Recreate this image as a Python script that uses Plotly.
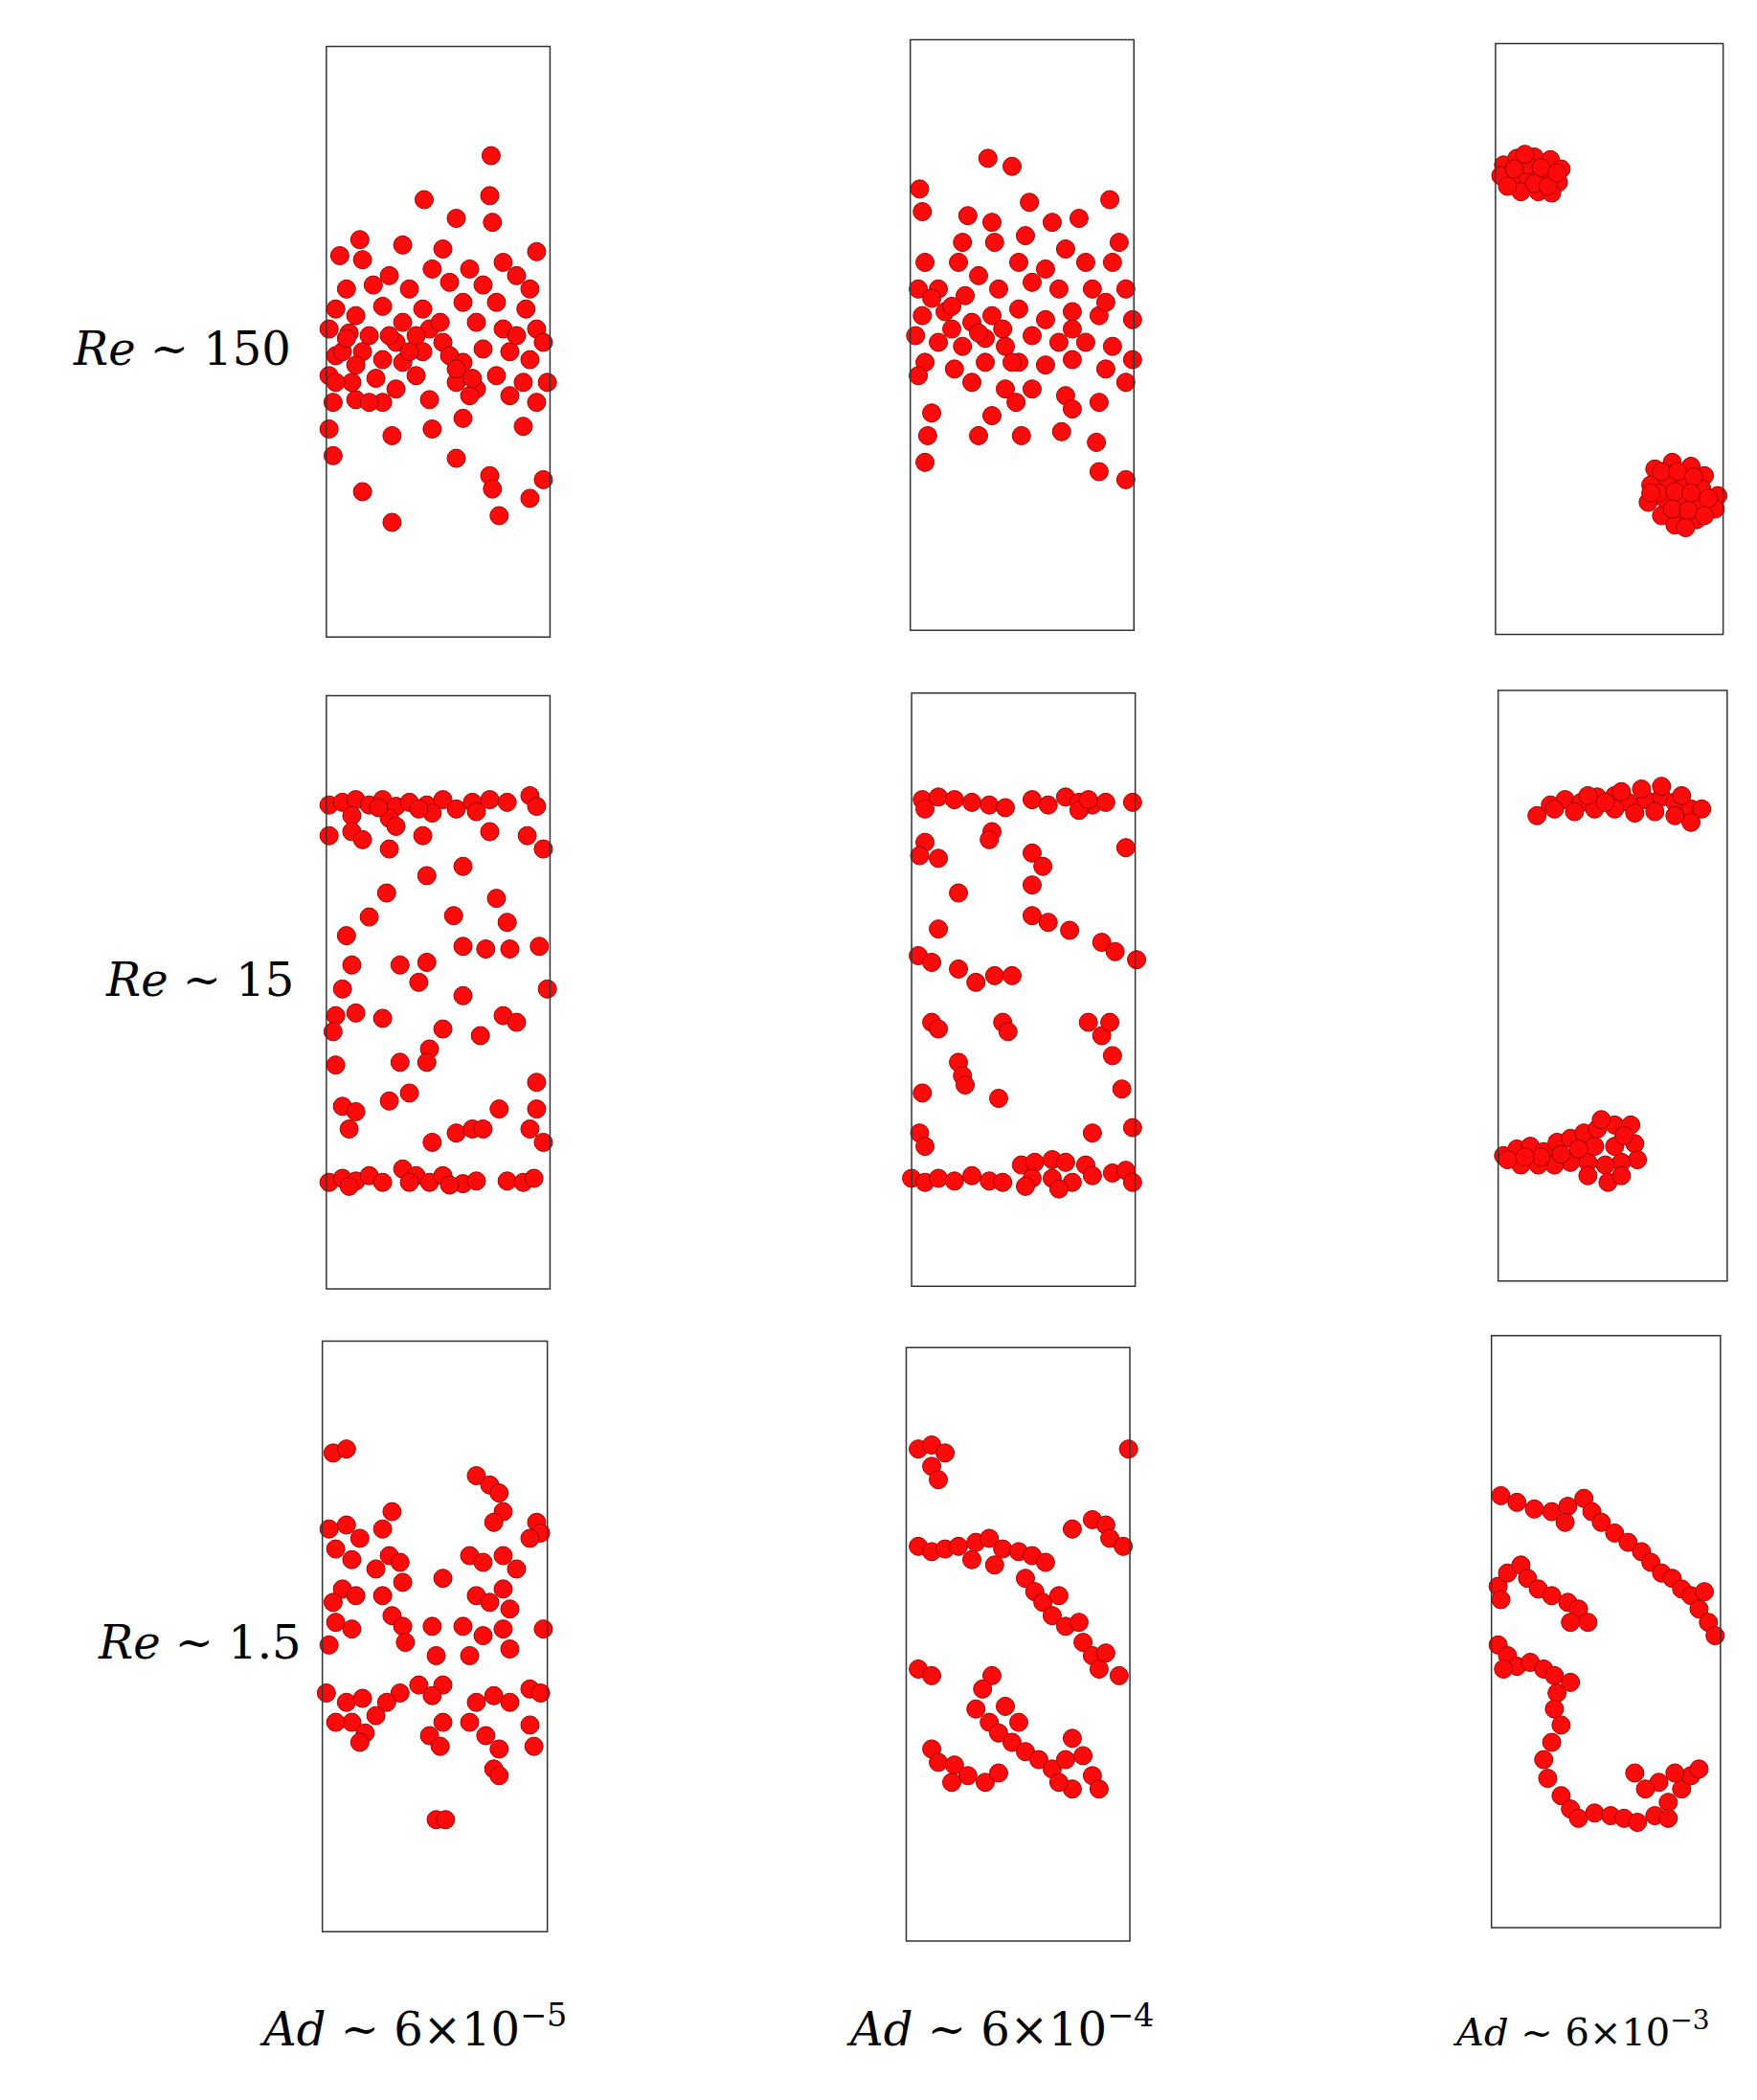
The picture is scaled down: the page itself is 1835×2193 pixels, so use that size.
import plotly.graph_objects as go

# coordinates are in picture units, y grows downward
# panel boxes (x0, y0, x1, y1)
boxes = [
    (243, 33, 410, 476), (679, 28, 846, 471), (1116, 31, 1286, 474),
    (243, 520, 410, 965), (680, 518, 847, 963), (1118, 516, 1289, 959),
    (240, 1004, 408, 1447), (676, 1009, 843, 1454), (1113, 1000, 1284, 1444),
]

# Re ~ 150, Ad ~ 6e-5
pts_a = [(366,115),(316,148),(365,145),(340,162),(367,165),(253,190),(268,178),(300,182),(330,185),(400,187),
         (270,193),(290,205),(322,200),(350,200),(375,195),(385,205),(258,215),(278,212),(305,215),(335,210),
         (360,212),(395,215),(250,230),(265,235),(285,228),(300,240),(315,230),(345,225),(370,225),(392,230),
         (245,245),(260,248),(275,250),(295,255),(320,245),(330,255),(355,240),(375,245),(400,245),(405,255),
         (250,265),(270,262),(285,268),(300,270),(315,262),(335,265),(345,270),(360,260),(380,262),(395,268),
         (245,280),(262,285),(280,282),(295,290),(310,280),(340,285),(355,290),(370,280),(390,285),(408,285),
         (248,300),(265,298),(285,300),(320,298),(350,295),(380,295),(400,300),(245,320),(292,325),(345,312),
         (322,320),(390,318),(248,340),(340,342),(365,355),(405,358),(270,367),(367,365),(395,372),(292,390),
         (372,385),(255,262),(305,262),(328,240),(250,285),(275,300),(290,250),(340,275),(352,282),(265,272),
         (310,250),(385,250),(258,252)]
# Re ~ 150, Ad ~ 6e-4
pts_b = [(737,117),(755,123),(686,140),(768,150),(688,157),(828,148),(722,160),(740,165),(785,165),(805,162),
         (718,180),(742,180),(765,175),(795,185),(835,180),(690,195),(715,195),(730,205),(760,195),(780,200),
         (810,195),(830,195),(685,215),(700,215),(720,220),(745,215),(770,210),(790,215),(815,215),(840,215),
         (688,235),(705,232),(725,240),(740,235),(760,230),(780,238),(800,232),(820,235),(845,238),(683,250),
         (700,255),(718,258),(735,252),(750,258),(770,250),(790,255),(810,255),(830,258),(690,270),(712,275),
         (735,270),(760,270),(780,272),(800,268),(825,275),(845,268),(685,280),(725,285),(750,290),(770,290),
         (795,295),(840,285),(695,308),(740,310),(758,300),(800,305),(820,300),(692,325),(730,325),(762,325),
         (792,322),(690,345),(820,352),(840,358),(818,330),(710,245),(755,270),(695,222),(710,228),(730,248),
         (748,245),(800,245),(825,225)]
# Re ~ 150, Ad ~ 6e-3
pts_c = [(1122,122),(1132,117),(1145,116),(1157,118),(1165,125),(1128,132),(1140,130),(1152,130),(1163,135),
         (1135,142),(1148,142),(1158,143),(1120,130),(1140,122),(1150,124),(1130,125),(1145,136),(1125,138),
         (1155,138),(1162,128),(1138,114),
         (1235,350),(1248,345),(1262,348),(1272,355),(1232,362),(1245,360),(1258,360),(1270,365),(1282,370),
         (1230,375),(1243,373),(1256,373),(1268,378),(1280,380),(1240,385),(1253,387),(1266,388),(1250,392),
         (1240,352),(1252,352),(1264,356),(1238,368),(1250,367),(1262,368),(1275,372),(1248,380),(1260,381),
         (1272,385),(1232,368),(1258,394)]
# Re ~ 15, Ad ~ 6e-5
pts_d = [(245,602),(255,600),(265,598),(275,602),(285,598),(295,603),(305,600),(318,602),(330,598),(340,605),
         (352,600),(365,598),(378,600),(395,595),(400,603),(262,610),(290,612),(322,608),(355,607),(245,625),
         (262,622),(270,628),(295,618),(315,625),(365,622),(393,625),(405,635),(290,635),(345,648),(318,655),
         (288,668),(370,672),(275,686),(338,685),(258,700),(378,690),(402,708),(345,708),(362,710),(380,710),
         (262,722),(298,722),(318,720),(255,740),(312,735),(408,740),(345,745),(250,760),(265,758),(285,762),
         (375,760),(385,765),(330,770),(358,775),(248,772),(320,785),(250,797),(298,795),(318,795),(400,810),
         (290,824),(305,818),(255,828),(265,832),(372,830),(400,830),(395,845),(340,848),(352,845),(360,845),
         (322,855),(405,855),(260,845),
         (245,885),(255,882),(265,884),(275,880),(285,885),(300,875),(310,880),(320,885),(330,880),(345,886),
         (355,884),(378,884),(390,885),(398,882),(305,885),(335,887),(260,888),(312,605),(282,604)]
# Re ~ 15, Ad ~ 6e-4
pts_e = [(688,598),(700,596),(712,598),(725,600),(738,602),(750,604),(770,598),(782,602),(795,596),(805,600),
         (815,602),(825,600),(845,600),(690,605),(805,606),(690,630),(740,622),(686,640),(700,642),(738,628),
         (770,638),(778,648),(840,634),(715,668),(770,662),(770,685),(782,690),(798,696),(700,695),(685,715),
         (695,720),(715,725),(728,735),(742,730),(755,730),(822,705),(832,712),(848,718),(695,765),(700,770),
         (748,765),(752,772),(812,765),(822,775),(828,765),(715,795),(718,805),(720,812),(830,790),(837,815),
         (688,818),(745,822),(686,848),(690,858),(815,848),(845,844),
         (680,882),(690,885),(700,882),(712,884),(725,880),(738,884),(748,885),(762,872),(772,870),(785,868),
         (795,870),(810,872),(770,882),(785,882),(800,885),(815,880),(830,878),(840,876),(845,885),(765,888),
         (790,890),(812,598)]
# Re ~ 15, Ad ~ 6e-3
pts_f = [(1147,610),(1157,602),(1168,598),(1180,600),(1192,596),(1205,595),(1215,600),(1228,598),(1240,596),
         (1250,600),(1262,605),(1270,605),(1262,615),(1250,610),(1235,607),(1220,608),(1205,605),(1190,605),
         (1175,607),(1160,605),(1240,588),(1225,590),(1210,592),(1198,600),(1185,595),(1255,595),
         (1122,865),(1132,860),(1142,858),(1152,862),(1162,855),(1172,852),(1182,848),(1192,845),(1205,842),
         (1217,842),(1220,856),(1222,868),(1210,870),(1198,872),(1185,870),(1172,870),(1160,872),(1148,872),
         (1135,872),(1125,868),(1190,858),(1205,858),(1178,860),(1200,885),(1210,880),(1195,838),(1165,864),
         (1150,866),(1138,866),(1185,880),(1212,850)]
# Re ~ 1.5, Ad ~ 6e-5
pts_g = [(248,1088),(258,1085),(245,1145),(258,1142),(268,1152),(285,1145),(292,1132),(355,1105),(365,1112),
         (372,1118),(375,1132),(368,1140),(400,1140),(403,1148),(395,1152),(250,1160),(262,1168),(290,1165),
         (298,1170),(280,1175),(350,1165),(360,1170),(375,1165),(385,1175),(255,1190),(265,1195),(248,1200),
         (285,1195),(300,1185),(330,1182),(355,1195),(365,1200),(375,1190),(380,1205),(250,1215),(262,1220),
         (292,1210),(300,1218),(322,1218),(345,1218),(360,1225),(375,1220),(380,1235),(405,1220),(245,1232),
         (302,1230),(350,1240),(325,1240),(312,1262),(298,1268),(330,1262),(322,1270),(243,1268),(258,1275),
         (270,1272),(355,1275),(368,1270),(380,1275),(395,1265),(403,1268),(262,1290),(272,1298),(268,1305),
         (330,1290),(320,1300),(328,1308),(350,1290),(362,1300),(372,1310),(395,1292),(398,1308),(368,1325),
         (372,1330),(325,1363),(332,1363),(250,1290),(288,1275),(280,1285)]
# Re ~ 1.5, Ad ~ 6e-4
pts_h = [(685,1085),(695,1082),(705,1088),(695,1098),(700,1108),(842,1085),(685,1158),(695,1162),(705,1160),
         (715,1158),(728,1155),(738,1152),(748,1160),(760,1162),(770,1165),(780,1170),(725,1168),(742,1172),
         (800,1145),(815,1138),(825,1142),(828,1152),(838,1158),(765,1182),(772,1192),(778,1200),(790,1195),
         (785,1210),(795,1218),(805,1215),(808,1230),(815,1240),(820,1250),(835,1255),(825,1238),(685,1250),
         (695,1255),(740,1255),(733,1265),(728,1280),(738,1290),(745,1298),(755,1305),(765,1312),(775,1318),
         (785,1325),(795,1318),(800,1302),(808,1315),(815,1330),(820,1340),(800,1340),(790,1335),(695,1310),
         (700,1320),(712,1322),(722,1330),(735,1335),(745,1328),(710,1335),(750,1278),(760,1290)]
# Re ~ 1.5, Ad ~ 6e-3
pts_i = [(1120,1120),(1132,1125),(1145,1130),(1158,1132),(1170,1128),(1182,1122),(1188,1132),(1195,1140),
         (1205,1148),(1215,1155),(1225,1162),(1232,1170),(1240,1178),(1248,1182),(1255,1190),(1262,1195),
         (1272,1192),(1268,1205),(1275,1215),(1280,1225),(1168,1140),
         (1118,1188),(1125,1178),(1135,1172),(1140,1182),(1148,1190),(1158,1195),(1170,1200),(1178,1205),
         (1185,1215),(1172,1215),(1120,1198),
         (1118,1232),(1125,1240),(1132,1248),(1142,1245),(1152,1250),(1160,1255),(1162,1268),(1160,1280),
         (1165,1292),(1158,1305),(1152,1318),(1155,1332),(1165,1345),(1172,1355),(1178,1362),(1190,1358),
         (1202,1360),(1212,1362),(1222,1365),(1235,1360),(1245,1350),(1255,1340),(1262,1330),(1268,1325),
         (1250,1328),(1238,1335),(1228,1340),(1220,1328),(1245,1362),(1172,1260),(1122,1250)]

panels = [pts_a, pts_b, pts_c, pts_d, pts_e, pts_f, pts_g, pts_h, pts_i]

row_labels = ["<i>Re</i> ~ 150", "<i>Re</i> ~ 15", "<i>Re</i> ~ 1.5"]
row_label_pos = [(135, 260), (148, 733), (148, 1230)]
col_labels = ["<i>Ad</i> ~ 6×10<sup>−5</sup>", "<i>Ad</i> ~ 6×10<sup>−4</sup>", "<i>Ad</i> ~ 6×10<sup>−3</sup>"]
col_label_pos = [(308, 1518), (746, 1518), (1180, 1520)]

fig = go.Figure()

for pts in panels:
    fig.add_trace(go.Scatter(
        x=[p[0] for p in pts], y=[p[1] for p in pts], mode="markers",
        marker=dict(size=19, color="#ff0a0a", line=dict(width=1, color="#a00000")),
        showlegend=False, hoverinfo="skip"))

for x0, y0, x1, y1 in boxes:
    fig.add_shape(type="rect", x0=x0, x1=x1, y0=y0, y1=y1,
                  line=dict(width=1.5, color="#333333"), layer="above")

for txt, (x, y) in zip(row_labels, row_label_pos):
    fig.add_annotation(x=x, y=y, text=txt, showarrow=False,
                       font=dict(family="DejaVu Serif", size=48, color="black"))
for k, (txt, (x, y)) in enumerate(zip(col_labels, col_label_pos)):
    fig.add_annotation(x=x, y=y, text=txt, showarrow=False,
                       font=dict(family="DejaVu Serif", size=48 if k < 2 else 40, color="black"))

fig.update_layout(
    width=1835, height=2193,
    margin=dict(l=0, r=0, t=0, b=0),
    plot_bgcolor="white", paper_bgcolor="white",
    xaxis=dict(range=[5, 1317], visible=False),
    yaxis=dict(range=[1579, 4], visible=False),
)

fig.write_html("out.html")
